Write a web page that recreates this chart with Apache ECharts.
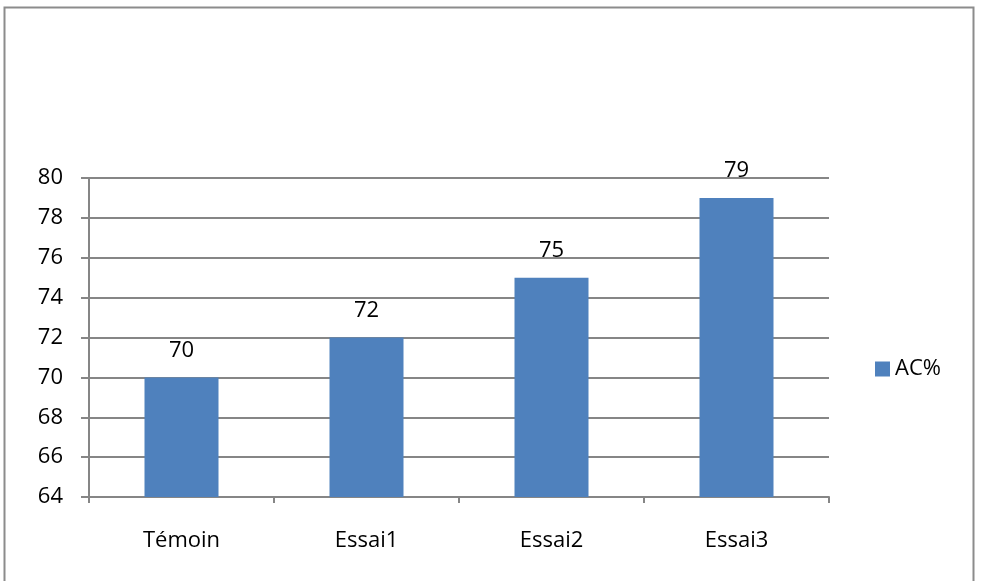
<!DOCTYPE html>
<html>
<head>
<meta charset="utf-8">
<script src="https://cdn.jsdelivr.net/npm/echarts@6/dist/echarts.min.js"></script>
<style>
  html, body { margin: 0; padding: 0; background: #fff; }
  #chart { width: 982px; height: 581px; }
</style>
</head>
<body>
<div id="chart"></div>
<script>
// Category names, bar values and the value-axis range
const categories = ['Témoin', 'Essai1', 'Essai2', 'Essai3'];
const acValues = [70, 72, 75, 79];
const seriesName = 'AC%';
const yMin = 64;
const yMax = 80;
const yStep = 2;

const FONT = '"Open Sans", "Noto Sans", sans-serif';
const FONT_SIZE = 22;
const GRID_GRAY = '#868686';

const chart = echarts.init(document.getElementById('chart'), null, { renderer: 'canvas' });

chart.setOption({
  animation: false,
  backgroundColor: '#ffffff',
  textStyle: { fontFamily: FONT },
  graphic: [{
    type: 'rect',
    shape: { x: 4.5, y: 7.5, width: 969, height: 600 },
    style: { fill: 'none', stroke: '#8c8c8c', lineWidth: 2 },
    silent: true,
    z: -1
  }],
  grid: { left: 89, right: 153, top: 178, bottom: 84, containLabel: false },
  legend: {
    data: [seriesName],
    left: 870,
    top: 353,
    itemWidth: 15,
    itemHeight: 15,
    itemGap: 6,
    icon: 'rect',
    textStyle: { fontFamily: FONT, fontSize: FONT_SIZE, color: '#000' }
  },
  xAxis: {
    type: 'category',
    data: categories,
    axisLine: { show: true, lineStyle: { color: GRID_GRAY, width: 2 } },
    axisTick: { show: true, length: 6, lineStyle: { color: GRID_GRAY, width: 2 } },
    axisLabel: { margin: 33, fontFamily: FONT, fontSize: FONT_SIZE, color: '#000' }
  },
  yAxis: {
    type: 'value',
    min: yMin,
    max: yMax,
    interval: yStep,
    axisLine: { show: true, lineStyle: { color: GRID_GRAY, width: 2 } },
    axisTick: { show: true, length: 8, lineStyle: { color: GRID_GRAY, width: 2 } },
    axisLabel: { margin: 26, fontFamily: FONT, fontSize: FONT_SIZE, color: '#000' },
    splitLine: { show: true, lineStyle: { color: GRID_GRAY, width: 2 } }
  },
  series: [{
    name: seriesName,
    type: 'bar',
    data: acValues,
    barWidth: '40%',
    itemStyle: { color: '#4F81BD' },
    label: {
      show: true,
      position: 'top',
      distance: 16,
      fontFamily: FONT,
      fontSize: FONT_SIZE,
      color: '#000'
    }
  }]
});
</script>
</body>
</html>
